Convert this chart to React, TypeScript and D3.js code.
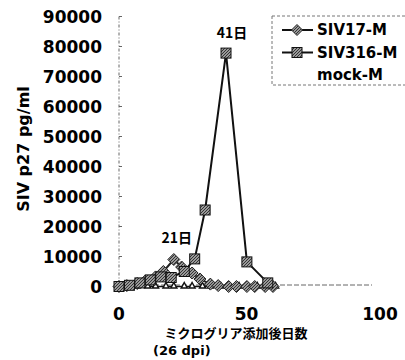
import React from "react";
import * as d3 from "d3";

const yTicks = [0, 10000, 20000, 30000, 40000, 50000, 60000, 70000, 80000, 90000];
const xTicks = [0, 50, 100];

const siv17Days = [0, 3, 7, 10, 14, 17, 21, 24, 28, 31, 35, 38, 42, 45, 49, 52, 56, 59];
const siv17Vals = [0, 300, 1000, 1800, 3200, 5000, 9000, 6500, 4500, 2500, 800, 300, 0, 0, 0, 0, 0, 0];

const siv316Days = [0, 4, 8, 12, 16, 20, 25, 29, 33, 41, 49, 57];
const siv316Vals = [0, 400, 1200, 2200, 3200, 3000, 5000, 9200, 25500, 77800, 8200, 1200];

const mockDays = [0, 4, 7, 11, 14, 18, 21, 25, 28, 32, 35, 39, 42, 46, 49, 53, 56, 60];
const mockVals = [0, 0, 0, 0, 0, 0, 0, 0, 0, 0, 0, 0, 0, 0, 0, 0, 0, 0];

const legendNames = ["SIV17-M", "SIV316-M", "mock-M"];
const annotations = [
  { day: 21, val: 9000, text: "21日" },
  { day: 41, val: 77800, text: "41日" },
];

const FONT = "'DejaVu Sans', sans-serif";

export default function App() {
  const W = 405, H = 360;
  const x = d3.scaleLinear().domain([0, 100]).range([119, 380]);
  const y = d3.scaleLinear().domain([0, 90000]).range([286.5, 16.5]);
  const line = d3.line<[number, number]>().x(d => x(d[0])).y(d => y(d[1]));
  const s17 = siv17Days.map((d, i) => [d, siv17Vals[i]] as [number, number]);
  const s316 = siv316Days.map((d, i) => [d, siv316Vals[i]] as [number, number]);
  const mock = mockDays.map((d, i) => [d, mockVals[i]] as [number, number]);

  const diamond = (cx: number, cy: number, r: number) =>
    `M${cx},${cy - r}L${cx + r},${cy}L${cx},${cy + r}L${cx - r},${cy}Z`;
  const tri = (cx: number, cy: number, r: number) =>
    `M${cx},${cy - r}L${cx + r},${cy + r * 0.8}L${cx - r},${cy + r * 0.8}Z`;

  return (
    <svg width={W} height={H} style={{ position: "absolute", left: 0, top: 0, background: "#fff" }}>
      <defs>
        <pattern id="hatch" width="3" height="3" patternUnits="userSpaceOnUse">
          <rect width="3" height="3" fill="#999" />
          <path d="M0,3L3,0" stroke="#333" strokeWidth="1" />
        </pattern>
      </defs>
      {/* axes */}
      <line x1={x(0)} x2={x(0)} y1={y(90000)} y2={y(0)} stroke="#666" strokeDasharray="3,2,1,2" strokeWidth={1} />
      <line x1={x(0)} x2={x(100) - 8} y1={y(0) - 1.5} y2={y(0) - 1.5} stroke="#666" strokeDasharray="5,2" strokeWidth={1} />
      {yTicks.map(t => (
        <g key={t}>
          <line x1={x(0)} x2={x(0) + 3} y1={y(t)} y2={y(t)} stroke="#666" />
          <text x={102} y={y(t)} dy="0.36em" textAnchor="end" fontFamily={FONT} fontWeight="bold" fontSize={17}>{t}</text>
        </g>
      ))}
      {xTicks.map(t => (
        <text key={t} x={x(t) - (t === 50 ? 3 : 0)} y={320} textAnchor="middle" fontFamily={FONT} fontWeight="bold" fontSize={17}>{t}</text>
      ))}
      <text transform="translate(29,149) rotate(-90)" textAnchor="middle" fontFamily={FONT} fontWeight="bold" fontSize={16}>SIV p27 pg/ml</text>
      <text x={236} y={338} textAnchor="middle" fontFamily="'Noto Sans CJK JP', sans-serif" fontWeight="bold" fontSize={13}>ミクログリア添加後日数</text>
      <text x={153} y={355} fontFamily={FONT} fontWeight="bold" fontSize={13}>(26 dpi)</text>

      {/* mock */}
      <path d={line(mock) || ""} fill="none" stroke="#111" strokeWidth={1.5} />
      {mock.map((p, i) => (
        <path key={"m" + i} d={tri(x(p[0]), y(p[1]) - 1, 3)} fill="#fff" stroke="#111" strokeWidth={1.5} />
      ))}
      {/* SIV17 */}
      <path d={line(s17) || ""} fill="none" stroke="#222" strokeWidth={2} />
      {s17.map((p, i) => (
        <path key={"a" + i} d={diamond(x(p[0]), y(p[1]), 6)} fill="url(#hatch)" stroke="#222" strokeWidth={1} />
      ))}
      {/* SIV316 */}
      <path d={line(s316) || ""} fill="none" stroke="#111" strokeWidth={2} />
      {s316.map((p, i) => (
        <rect key={"b" + i} x={x(p[0]) - 5} y={y(p[1]) - 5} width={10} height={10} fill="url(#hatch)" stroke="#111" strokeWidth={1} />
      ))}
      {annotations.map(a => (
        <text key={a.text} x={x(a.day) + (a.day === 41 ? 6 : 3)} y={a.day === 41 ? 38 : 243} textAnchor="middle" fontFamily="'Noto Sans CJK JP', sans-serif" fontWeight="bold" fontSize={14}>{a.text}</text>
      ))}

      {/* legend */}
      <rect x={272} y={16} width={140} height={69} fill="none" stroke="#777" strokeDasharray="3,2" />
      {legendNames.map((n, i) => {
        const ly = 30 + i * 22.5;
        return (
          <g key={n}>
            {i < 2 && <line x1={282} x2={313} y1={ly} y2={ly} stroke="#111" strokeWidth={2} />}
            {i === 0 && <path d={diamond(297, ly, 5.5)} fill="url(#hatch)" stroke="#222" />}
            {i === 1 && <rect x={292} y={ly - 5} width={10} height={10} fill="url(#hatch)" stroke="#111" />}
            <text x={317} y={ly} dy="0.36em" fontFamily={FONT} fontWeight="bold" fontSize={15}>{n}</text>
          </g>
        );
      })}
    </svg>
  );
}
